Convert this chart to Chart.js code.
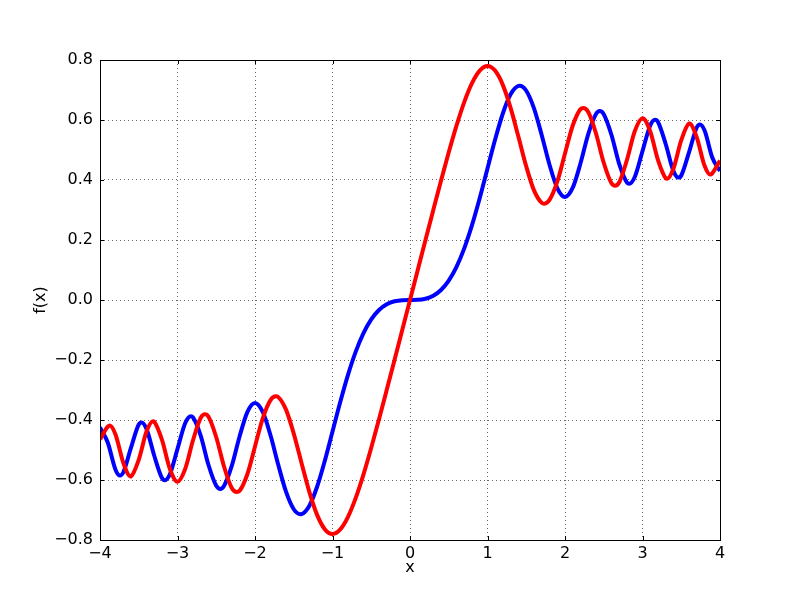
<!DOCTYPE html>
<html>
<head>
<meta charset="utf-8">
<script src="https://cdn.jsdelivr.net/npm/chart.js@4.4.1/dist/chart.umd.min.js"></script>
<style>
  html, body { margin: 0; padding: 0; background: #fff; }
  canvas { display: block; }
</style>
</head>
<body>
<canvas id="myChart" width="800" height="600"></canvas>
<script>
// red curve
var redX = [-4.0, -3.9, -3.873, -3.8, -3.7, -3.606, -3.6, -3.5, -3.4, -3.317, -3.3, -3.2, -3.1, -3.0, -2.9, -2.8, -2.7, -2.646, -2.6, -2.5, -2.4, -2.3, -2.236, -2.2, -2.1, -2.0, -1.9, -1.8, -1.732, -1.7, -1.6, -1.5, -1.4, -1.3, -1.2, -1.1, -1.0, -0.9, -0.8, -0.7, -0.6, -0.5, -0.4, -0.3, -0.2, -0.1,
  0, 0.1, 0.2, 0.3, 0.4, 0.5, 0.6, 0.7, 0.8, 0.9, 1.0, 1.1, 1.2, 1.3, 1.4, 1.5, 1.6, 1.7, 1.732, 1.8, 1.9, 2.0, 2.1, 2.2, 2.236, 2.3, 2.4, 2.5, 2.6, 2.646, 2.7, 2.8, 2.9, 3.0, 3.1, 3.2, 3.3, 3.317, 3.4, 3.5, 3.6, 3.606, 3.7, 3.8, 3.873, 3.9, 4.0];
var redY = [-0.465, -0.4223, -0.418, -0.4481, -0.5420, -0.5883, -0.5880, -0.5326, -0.4385, -0.404, -0.4058, -0.4664, -0.5616, -0.6058, -0.5624, -0.4675, -0.3925, -0.381, -0.3890, -0.4574, -0.5550, -0.6266, -0.640, -0.6363, -0.5816, -0.4882, -0.3944, -0.3336, -0.3212, -0.3238, -0.3655, -0.4453, -0.5431, -0.6386, -0.7154, -0.7638, -0.7799, -0.7648, -0.7228, -0.6597, -0.5811, -0.4923, -0.3975, -0.2994, -0.1999, -0.0999,
  0, 0.0999, 0.1999, 0.2994, 0.3975, 0.4923, 0.5811, 0.6597, 0.7228, 0.7648, 0.7799, 0.7638, 0.7154, 0.6386, 0.5431, 0.4453, 0.3655, 0.3238, 0.3212, 0.3336, 0.3944, 0.4882, 0.5816, 0.6363, 0.640, 0.6266, 0.5550, 0.4574, 0.3890, 0.381, 0.3925, 0.4675, 0.5624, 0.6058, 0.5616, 0.4664, 0.4058, 0.404, 0.4385, 0.5326, 0.5880, 0.5883, 0.5420, 0.4481, 0.418, 0.4223, 0.465];

// blue curve
var blueX = [-4.0, -3.9, -3.8, -3.742, -3.7, -3.6, -3.5, -3.464, -3.4, -3.3, -3.2, -3.162, -3.1, -3.0, -2.9, -2.828, -2.8, -2.7, -2.6, -2.5, -2.449, -2.4, -2.3, -2.2, -2.1, -2.0, -1.9, -1.8, -1.7, -1.6, -1.5, -1.414, -1.4, -1.3, -1.2, -1.1, -1.0, -0.9, -0.8, -0.7, -0.6, -0.5, -0.4, -0.3, -0.2, -0.1,
  0, 0.1, 0.2, 0.3, 0.4, 0.5, 0.6, 0.7, 0.8, 0.9, 1.0, 1.1, 1.2, 1.3, 1.4, 1.414, 1.5, 1.6, 1.7, 1.8, 1.9, 2.0, 2.1, 2.2, 2.3, 2.4, 2.449, 2.5, 2.6, 2.7, 2.8, 2.828, 2.9, 3.0, 3.1, 3.162, 3.2, 3.3, 3.4, 3.464, 3.5, 3.6, 3.7, 3.742, 3.8, 3.9, 4.0];
var blueY = [-0.425, -0.4752, -0.5656, -0.5851, -0.5750, -0.4923, -0.4152, -0.4081, -0.4296, -0.5192, -0.5933, -0.6007, -0.5818, -0.4963, -0.4101, -0.3875, -0.3915, -0.4529, -0.5500, -0.6192, -0.6297, -0.6197, -0.5532, -0.4557, -0.3743, -0.3434, -0.3733, -0.4509, -0.5492, -0.6389, -0.6975, -0.7139, -0.7135, -0.6863, -0.6234, -0.5365, -0.4383, -0.3398, -0.2493, -0.1721, -0.1105, -0.0647, -0.0334, -0.0141, -0.0042, -0.0005,
  0, 0.0005, 0.0042, 0.0141, 0.0334, 0.0647, 0.1105, 0.1721, 0.2493, 0.3398, 0.4383, 0.5365, 0.6234, 0.6863, 0.7135, 0.7139, 0.6975, 0.6389, 0.5492, 0.4509, 0.3733, 0.3434, 0.3743, 0.4557, 0.5532, 0.6197, 0.6297, 0.6192, 0.5500, 0.4529, 0.3915, 0.3875, 0.4101, 0.4963, 0.5818, 0.6007, 0.5933, 0.5192, 0.4296, 0.4081, 0.4152, 0.4923, 0.5750, 0.5851, 0.5656, 0.4752, 0.43];

var xTicks = [-4, -3, -2, -1, 0, 1, 2, 3, 4];
var yTicks = [-0.8, -0.6, -0.4, -0.2, 0.0, 0.2, 0.4, 0.6, 0.8];

function toPoints(xs, ys) {
    return xs.map(function (x, i) { return { x: x, y: ys[i] }; });
}

function minusSign(s) {
    return s.replace('-', '\u2212');
}

var FONT = 'DejaVu Sans';

// matplotlib style frame + inward ticks
var framePlugin = {
    id: 'frame',
    afterDraw: function (chart) {
        var c = chart.ctx;
        var a = chart.chartArea;
        var xs = chart.scales.x, ys = chart.scales.y;
        c.save();
        c.strokeStyle = '#000';
        c.lineWidth = 1;
        c.beginPath();
        xTicks.forEach(function (t) {
            var px = Math.round(xs.getPixelForValue(t)) + 0.5;
            c.moveTo(px, a.bottom); c.lineTo(px, a.bottom - 4);
            c.moveTo(px, a.top); c.lineTo(px, a.top + 4);
        });
        yTicks.forEach(function (t) {
            var py = Math.round(ys.getPixelForValue(t)) + 0.5;
            c.moveTo(a.left, py); c.lineTo(a.left + 4, py);
            c.moveTo(a.right, py); c.lineTo(a.right - 4, py);
        });
        c.stroke();
        c.strokeRect(Math.round(a.left) + 0.5, Math.round(a.top) + 0.5,
            Math.round(a.right - a.left), Math.round(a.bottom - a.top));
        c.restore();
    }
};

var ctx = document.getElementById('myChart').getContext('2d');
var myChart = new Chart(ctx, {
    type: 'line',
    data: {
        datasets: [{
            label: 'blue',
            data: toPoints(blueX, blueY),
            borderColor: '#0000ff',
            backgroundColor: '#0000ff',
            borderWidth: 4,
            pointRadius: 0,
            cubicInterpolationMode: 'monotone',
            fill: false,
            order: 2
        }, {
            label: 'red',
            data: toPoints(redX, redY),
            borderColor: '#ff0000',
            backgroundColor: '#ff0000',
            borderWidth: 4,
            pointRadius: 0,
            cubicInterpolationMode: 'monotone',
            fill: false,
            order: 1
        }]
    },
    options: {
        responsive: false,
        animation: false,
        devicePixelRatio: 1,
        layout: { padding: { left: 0, right: 80, top: 60, bottom: 0 } },
        plugins: {
            legend: { display: false },
            tooltip: { enabled: false }
        },
        scales: {
            x: {
                type: 'linear',
                min: -4,
                max: 4,
                afterBuildTicks: function (scale) {
                    scale.ticks = xTicks.map(function (v) { return { value: v }; });
                },
                afterFit: function (scale) {
                    scale.height = 60;
                    scale.paddingLeft = 0; scale.paddingRight = 0;
                    scale.paddingTop = 0; scale.paddingBottom = 0;
                },
                grid: {
                    color: '#000',
                    lineWidth: 0.6,
                    drawTicks: false
                },
                border: { display: false, dash: [1, 3] },
                ticks: {
                    padding: 4,
                    maxRotation: 0,
                    color: '#000',
                    font: { family: FONT, size: 16 },
                    callback: function (v) { return minusSign(String(Math.round(v))); }
                },
                title: {
                    display: true,
                    text: 'x',
                    color: '#000',
                    font: { family: FONT, size: 16 },
                    padding: { top: 0, bottom: 23 }
                }
            },
            y: {
                type: 'linear',
                min: -0.8,
                max: 0.8,
                afterBuildTicks: function (scale) {
                    scale.ticks = yTicks.map(function (v) { return { value: v }; });
                },
                afterFit: function (scale) {
                    scale.width = 100;
                    scale.paddingLeft = 0; scale.paddingRight = 0;
                    scale.paddingTop = 0; scale.paddingBottom = 0;
                },
                grid: {
                    color: '#000',
                    lineWidth: 0.6,
                    drawTicks: false
                },
                border: { display: false, dash: [1, 3] },
                ticks: {
                    padding: 7,
                    color: '#000',
                    font: { family: FONT, size: 16 },
                    callback: function (v) {
                        if (Math.abs(v) < 1e-9) return '0.0';
                        return minusSign(v.toFixed(1));
                    }
                },
                title: {
                    display: true,
                    text: 'f(x)',
                    color: '#000',
                    font: { family: FONT, size: 16 },
                    padding: { top: 31, bottom: 0 }
                }
            }
        }
    },
    plugins: [framePlugin]
});
</script>
</body>
</html>
